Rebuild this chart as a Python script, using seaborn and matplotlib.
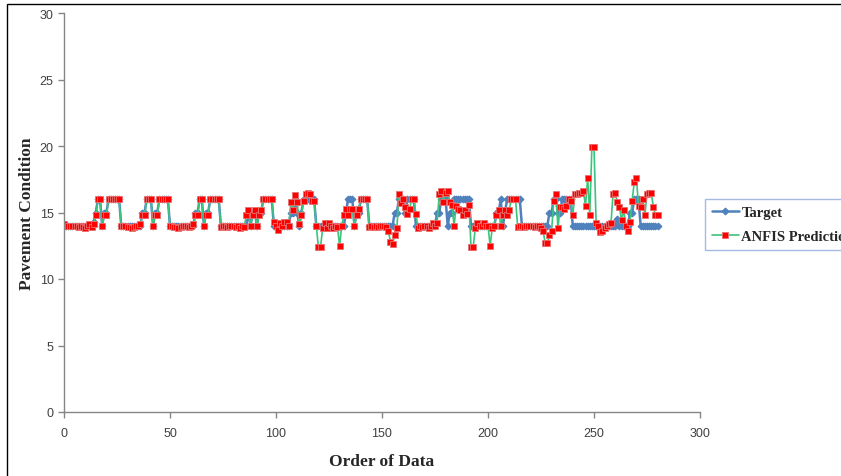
import seaborn as sns
import matplotlib.pyplot as plt
import matplotlib.patches as mpatches
import pandas as pd

# valores (indice 0..280)
target = [
    14, 14, 14, 14, 14, 14, 14, 14, 14, 14, 14, 14, 14, 14, 14.3, 15, 16, 16, 14, 15,
    15, 16, 16, 16, 16, 16, 16, 14, 14, 14, 14, 14, 14, 14, 14, 14, 14, 15, 15, 16,
    16, 16, 14, 15, 15, 16, 16, 16, 16, 16, 14, 14, 14, 14, 14, 14, 14, 14, 14, 14,
    14, 14, 15, 15, 16, 16, 14, 15, 15, 16, 16, 16, 16, 16, 14, 14, 14, 14, 14, 14,
    14, 14, 14, 14, 14, 14, 14, 15, 14, 15, 15, 14, 15, 15, 16, 16, 16, 16, 16, 14,
    14, 14, 14, 14, 14, 14, 14, 15, 15, 16, 15, 14, 15, 16, 16, 16, 16, 16, 16, 14,
    14, 14, 14, 14, 14, 14, 14, 14, 14, 14, 14, 14, 14, 15, 16, 16, 16, 14, 15, 15,
    16, 16, 16, 16, 14, 14, 14, 14, 14, 14, 14, 14, 14, 14, 14, 14, 15, 15, 16, 16,
    16, 15, 16, 16, 16, 16, 14, 14, 14, 14, 14, 14, 14, 14, 14, 14, 15, 15, 16, 16,
    16, 14, 15, 15, 16, 16, 16, 16, 16, 16, 16, 16, 14, 14, 14, 14, 14, 14, 14, 14,
    14, 14, 14, 14, 15, 15, 16, 14, 15, 16, 16, 16, 16, 16, 16, 16, 14, 14, 14, 14,
    14, 14, 14, 14, 14, 14, 14, 14, 14, 15, 15, 16, 16, 15, 15, 16, 16, 16, 16, 16,
    14, 14, 14, 14, 14, 14, 14, 14, 14, 14, 14, 14, 14, 14, 14, 14, 14, 14, 14, 14,
    14, 14.5, 14, 14, 14, 14, 14, 15, 15, 16, 16, 16, 14, 14, 14, 14, 14, 14, 14, 14,
    14,
]

anfis = [
    14.1, 14.0, 14.0, 14.0, 14.0, 14.0, 14.0, 13.9, 14.0, 13.9, 13.8, 14.0, 14.1, 13.9, 14.1, 14.8, 16.0, 16.0, 14.0, 14.8,
    14.8, 16.0, 16.0, 16.0, 16.0, 16.0, 16.0, 14.0, 14.0, 14.0, 13.9, 13.9, 13.8, 13.9, 14.0, 14.0, 14.1, 14.8, 14.8, 16.0,
    16.0, 16.0, 14.0, 14.8, 14.8, 16.0, 16.0, 16.0, 16.0, 16.0, 14.0, 14.0, 13.9, 13.9, 13.8, 13.9, 14.0, 14.0, 14.0, 13.9,
    14.0, 14.1, 14.8, 14.8, 16.0, 16.0, 14.0, 14.8, 14.8, 16.0, 16.0, 16.0, 16.0, 16.0, 13.9, 14.0, 14.0, 13.9, 14.0, 14.0,
    14.0, 13.9, 14.0, 13.8, 14.0, 13.9, 14.8, 15.2, 14.0, 14.8, 15.2, 14.0, 14.8, 15.2, 16.0, 16.0, 16.0, 16.0, 16.0, 14.3,
    14.0, 13.7, 14.2, 14.0, 14.3, 14.3, 14.0, 15.8, 15.2, 16.3, 15.8, 14.1, 14.8, 15.9, 16.4, 16.5, 16.4, 15.9, 15.9, 14.0,
    12.4, 12.4, 13.8, 14.2, 13.8, 14.2, 14.0, 13.8, 14.0, 13.9, 12.5, 14.0, 14.8, 15.3, 14.8, 15.3, 15.3, 14.0, 14.8, 15.3,
    16.0, 16.0, 16.0, 16.0, 13.9, 14.0, 13.9, 14.0, 13.9, 14.0, 14.0, 14.0, 13.9, 13.6, 12.8, 12.6, 13.3, 13.8, 16.4, 15.7,
    16.0, 15.4, 14.9, 15.3, 16.0, 16.0, 14.9, 13.8, 14.0, 13.9, 14.0, 14.0, 13.8, 14.0, 14.2, 14.0, 14.2, 16.4, 16.6, 15.8,
    16.5, 16.6, 15.8, 15.6, 14.0, 15.5, 15.3, 15.2, 14.8, 15.2, 14.9, 15.6, 12.4, 12.4, 13.8, 14.2, 14.0, 14.0, 14.2, 14.0,
    14.0, 12.5, 13.8, 14.0, 14.8, 15.2, 14.0, 14.8, 15.2, 14.8, 15.2, 16.0, 16.0, 16.0, 13.9, 14.0, 14.0, 13.9, 14.0, 14.0,
    14.0, 14.0, 13.9, 14.0, 14.0, 13.8, 13.6, 12.7, 12.7, 13.3, 13.6, 15.9, 16.4, 13.8, 15.4, 15.4, 15.3, 15.5, 16.0, 15.9,
    14.8, 16.4, 16.4, 16.5, 16.5, 16.6, 15.5, 17.6, 14.8, 19.9, 19.9, 14.2, 14.0, 13.5, 13.6, 13.8, 14.0, 14.1, 14.2, 16.4,
    16.5, 15.8, 15.4, 14.4, 15.2, 14.0, 13.6, 14.3, 15.9, 17.3, 17.6, 15.5, 15.4, 16.0, 14.8, 16.4, 16.5, 16.5, 15.4, 14.8,
    14.8,
]

ordem = list(range(len(target)))
df = pd.DataFrame({'Ordem': ordem, 'Target': target, 'ANFIS': anfis})

sns.set_style('white')
plt.rcParams['font.family'] = ['Liberation Sans', 'DejaVu Sans']

fig = plt.figure(figsize=(8.41, 4.77), dpi=100)
ax = fig.add_axes([64 / 841, 1 - 413 / 477, 636 / 841, 399 / 477])

sns.lineplot(data=df, x='Ordem', y='Target', ax=ax, color='#4F81BD', linewidth=1.8,
             marker='D', markersize=3.5, markerfacecolor='#4F81BD',
             markeredgecolor='#4F81BD', label='Target')
sns.lineplot(data=df, x='Ordem', y='ANFIS', ax=ax, color='#3CC47C', linewidth=1.2,
             marker='s', markersize=5, markerfacecolor='#FF0000',
             markeredgecolor='#E87070', markeredgewidth=0.6, label='ANFIS Prediction')

ax.set_xlim(0, 300)
ax.set_ylim(0, 30)
ax.set_xticks(range(0, 301, 50))
ax.set_yticks(range(0, 31, 5))
for lado in ['top', 'right']:
    ax.spines[lado].set_visible(False)
for lado in ['left', 'bottom']:
    ax.spines[lado].set_color('#868686')
    ax.spines[lado].set_linewidth(1)
ax.tick_params(axis='both', direction='out', length=4, width=1, color='#868686',
               labelsize=9, labelcolor='#404040', left=True, bottom=True)
ax.tick_params(axis='x', pad=7)

ax.set_xlabel('Order of Data', fontsize=12.5, fontweight='bold',
              family=['Liberation Serif'], labelpad=10)
ax.set_ylabel('Pavement Condition', fontsize=12.5, fontweight='bold',
              family=['Liberation Serif'], labelpad=3)

ax.get_legend().remove()
linhas, nomes = ax.get_legend_handles_labels()
leg = fig.legend(linhas, nomes, loc='upper left', bbox_to_anchor=(705 / 841, 1 - 200 / 477),
                 frameon=True, fancybox=False, borderaxespad=0, handlelength=1.8,
                 handletextpad=0.2, borderpad=0.5, labelspacing=0.7,
                 prop={'family': 'Liberation Serif', 'weight': 'bold', 'size': 10.5})
leg.get_frame().set_edgecolor('#8EA9DB')
leg.get_frame().set_linewidth(1)

# borda do grafico (estilo excel)
fig.patches.append(mpatches.Rectangle((7 / 841, -0.1), 1.2, 1 - 5 / 477 + 0.1,
                                      transform=fig.transFigure, fill=False,
                                      edgecolor='black', linewidth=1))

plt.savefig('out.png', dpi=100)
plt.close()
